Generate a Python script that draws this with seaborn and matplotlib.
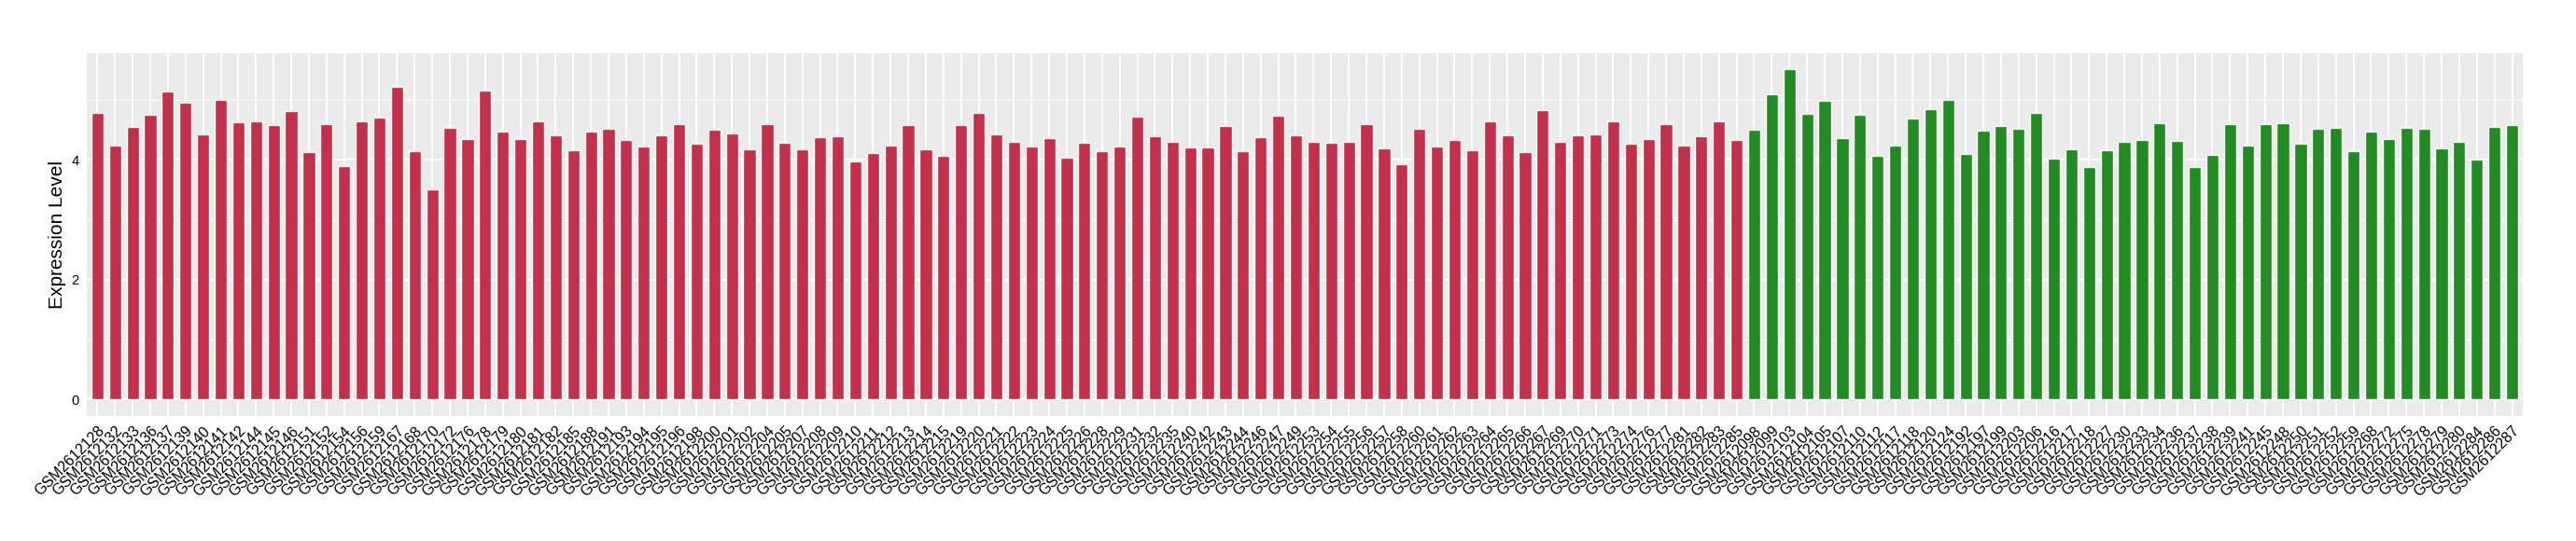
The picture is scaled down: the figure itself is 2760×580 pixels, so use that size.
import numpy as np
import pandas as pd
import matplotlib
matplotlib.use("Agg")
import matplotlib.pyplot as plt
import seaborn as sns
from matplotlib.ticker import MultipleLocator

# sample ids (suffix after GSM2612) and expression values
red_ids = [128, 132, 133, 136, 137, 139, 140, 141, 142, 144, 145, 146, 151, 152, 154, 156, 159,
           167, 168, 170, 172, 176, 178, 179, 180, 181, 182, 185, 188, 191, 193, 194, 195, 196,
           198, 200, 201, 202, 204, 205, 207, 208, 209, 210, 211, 212, 213, 214, 215, 219, 220,
           221, 222, 223, 224, 225, 226, 228, 229, 231, 232, 235, 240, 242, 243, 244, 246, 247,
           249, 253, 254, 255, 256, 257, 258, 260, 261, 262, 263, 264, 265, 266, 267, 269, 270,
           271, 273, 274, 276, 277, 281, 282, 283, 285]
red_vals = [4.78, 4.24, 4.55, 4.75, 5.14, 4.96, 4.42, 5.00, 4.63, 4.65, 4.58, 4.81, 4.13, 4.59,
            3.90, 4.65, 4.70, 5.22, 4.14, 3.51, 4.53, 4.34, 5.15, 4.47, 4.34, 4.64, 4.41, 4.16,
            4.47, 4.52, 4.33, 4.22, 4.41, 4.59, 4.27, 4.50, 4.44, 4.17, 4.59, 4.28, 4.17, 4.38,
            4.39, 3.97, 4.11, 4.24, 4.58, 4.17, 4.07, 4.58, 4.78, 4.42, 4.30, 4.22, 4.36, 4.03,
            4.28, 4.14, 4.22, 4.72, 4.39, 4.30, 4.21, 4.21, 4.56, 4.14, 4.38, 4.73, 4.41, 4.30,
            4.28, 4.30, 4.59, 4.19, 3.93, 4.52, 4.22, 4.33, 4.16, 4.65, 4.41, 4.13, 4.83, 4.30,
            4.41, 4.42, 4.64, 4.27, 4.34, 4.59, 4.24, 4.39, 4.65, 4.33]

green_ids = [98, 99, 103, 104, 105, 107, 110, 112, 117, 118, 120, 124, 192, 197, 199, 203, 206,
             216, 217, 218, 227, 230, 233, 234, 236, 237, 238, 239, 241, 245, 248, 250, 251, 252,
             259, 268, 272, 275, 278, 279, 280, 284, 286, 287]
green_vals = [4.50, 5.09, 5.51, 4.76, 4.98, 4.36, 4.75, 4.07, 4.24, 4.69, 4.84, 5.00, 4.10, 4.49,
              4.56, 4.52, 4.78, 4.02, 4.17, 3.88, 4.16, 4.30, 4.33, 4.61, 4.32, 3.88, 4.08, 4.59,
              4.24, 4.59, 4.61, 4.27, 4.52, 4.53, 4.14, 4.47, 4.34, 4.53, 4.52, 4.19, 4.30, 4.01,
              4.55, 4.58]

red_color = "#C3304A"
green_color = "#228B22"

samples = [f"GSM2612{i:03d}" for i in red_ids] + [f"GSM2612{i:03d}" for i in green_ids]
df = pd.DataFrame({
    "sample": samples,
    "value": red_vals + green_vals,
    "group": ["A"] * len(red_ids) + ["B"] * len(green_ids),
})

sns.set_theme(style="darkgrid", rc={
    "axes.facecolor": "#EBEBEB",
    "grid.color": "white",
    "axes.edgecolor": "none",
})
plt.rcParams["font.family"] = ["Liberation Sans", "DejaVu Sans"]

fig = plt.figure(figsize=(27.6, 5.8), dpi=100)
ax = fig.add_axes([0.0337, 0.231, 0.9456, 0.6714])

sns.barplot(data=df, x="sample", y="value", hue="group", order=samples,
            palette={"A": red_color, "B": green_color}, dodge=False, width=0.7,
            saturation=1, legend=False, ax=ax)

n = len(samples)
ymax = max(red_vals + green_vals)
ax.set_xlim(-0.6, n - 0.4)
ax.set_ylim(-0.05 * ymax, ymax * 1.05)
ax.set_yticks([0, 2, 4])
ax.yaxis.set_minor_locator(MultipleLocator(1))
ax.grid(which="major", color="white", linewidth=1.4)
ax.grid(which="minor", axis="y", color="white", linewidth=0.7)
ax.set_axisbelow(True)
for s in ax.spines.values():
    s.set_visible(False)

ax.tick_params(axis="both", which="major", length=4, width=1, color="#333333",
               labelcolor="black", pad=2)
ax.tick_params(axis="y", which="minor", length=0)
ax.tick_params(axis="y", labelsize=10.5)
plt.setp(ax.get_xticklabels(), rotation=45, ha="right", va="top",
         rotation_mode="anchor", fontsize=11.5)

ax.set_xlabel("")
ax.set_ylabel("Expression Level", fontsize=15, color="black", labelpad=4)

fig.savefig("out.png", dpi=100)
